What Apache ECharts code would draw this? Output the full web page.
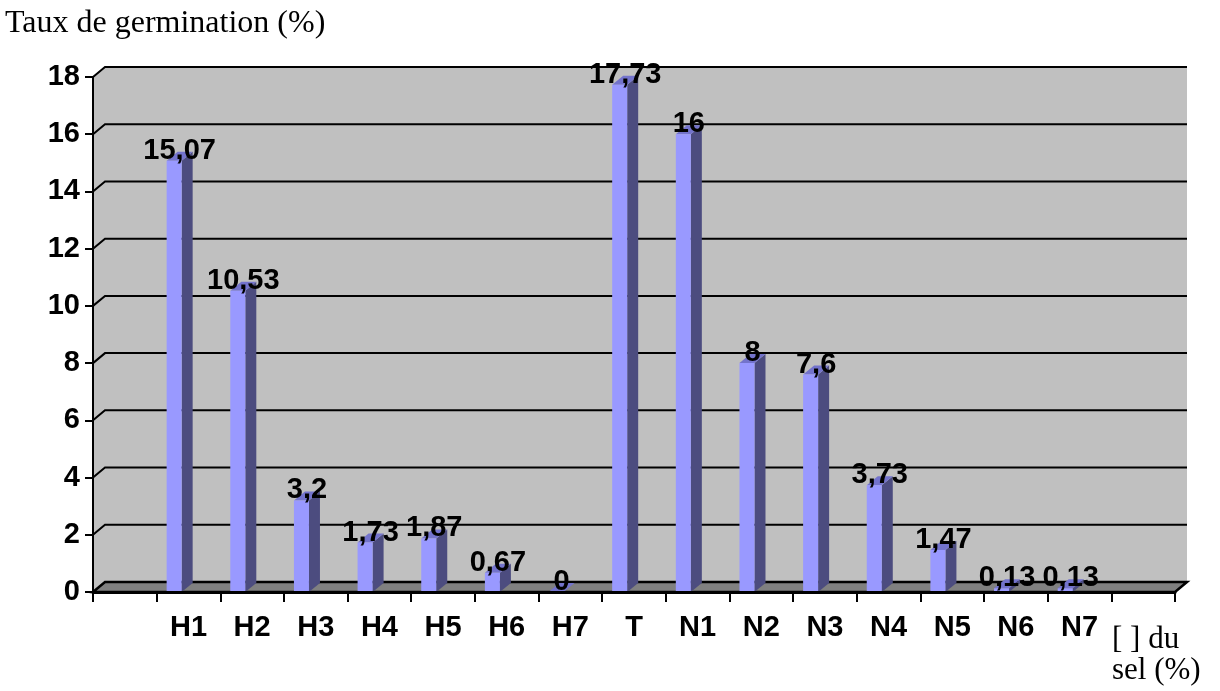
<!DOCTYPE html>
<html>
<head>
<meta charset="utf-8">
<title>Taux de germination</title>
<script src="https://cdn.jsdelivr.net/npm/echarts@6/dist/echarts.min.js"></script>
<style>
  html, body { margin: 0; padding: 0; background: #fff; }
  #chart { width: 1220px; height: 691px; }
</style>
</head>
<body>
<div id="chart"></div>
<script>
// Salt treatments (H = one salt, T = control, N = the other salt)
const CATEGORIES = ['H1', 'H2', 'H3', 'H4', 'H5', 'H6', 'H7', 'T', 'N1', 'N2', 'N3', 'N4', 'N5', 'N6', 'N7'];
// Germination rate (%) for each treatment
const GERMINATION = [15.07, 10.53, 3.2, 1.73, 1.87, 0.67, 0, 17.73, 16, 8, 7.6, 3.73, 1.47, 0.13, 0.13];
// Value axis
const Y_MIN = 0;
const Y_MAX = 18;
const Y_STEP = 2;

// One empty slot on each side of the treatments, as on the category axis
const axisCategories = [''].concat(CATEGORIES, ['']);

// Pseudo-3D depth of the wall/floor and of the bars
const WALL_DX = 12, WALL_DY = -10;
const BAR_DX = 11, BAR_DY = -9;

const FONT_SANS = 'Liberation Sans, Arial, sans-serif';
const FONT_SERIF = 'Liberation Serif, Times New Roman, serif';

function fmt(v) {
  return String(v).replace('.', ',');
}

// Back wall, left wall, floor and gridlines
function renderWall(params, api) {
  const cs = params.coordSys;
  const x0 = cs.x, x1 = cs.x + cs.width;
  const yb = api.coord([0, Y_MIN])[1];
  const yt = api.coord([0, Y_MAX])[1];
  const children = [];
  children.push({
    type: 'polygon',
    shape: { points: [[x0, yt], [x0 + WALL_DX, yt + WALL_DY], [x1 + WALL_DX, yt + WALL_DY],
                      [x1 + WALL_DX, yb + WALL_DY], [x0 + WALL_DX, yb + WALL_DY], [x0, yb]] },
    style: { fill: '#c0c0c0' }
  });
  children.push({
    type: 'polygon',
    shape: { points: [[x0, yb], [x0 + WALL_DX, yb + WALL_DY], [x1 + WALL_DX, yb + WALL_DY], [x1, yb]] },
    style: { fill: '#808080', stroke: '#000', lineWidth: 2.5 }
  });
  for (let v = Y_MIN + Y_STEP; v <= Y_MAX; v += Y_STEP) {
    const y = api.coord([0, v])[1];
    children.push({
      type: 'polyline',
      shape: { points: [[x0, y], [x0 + WALL_DX, y + WALL_DY], [x1 + WALL_DX, y + WALL_DY]] },
      style: { stroke: '#000', lineWidth: 2, fill: null }
    });
  }
  return { type: 'group', children: children };
}

// Prism bar with front face, side face, top face and value label
function renderBar(params, api) {
  const idx = api.value(0);
  const val = api.value(1);
  const top = api.coord([idx, val]);
  const base = api.coord([idx, Y_MIN]);
  const band = api.size([1, 0])[0];
  const left = top[0] - band / 2 + band * 0.157;
  const fw = band * 0.236;
  const right = left + fw;
  const yTop = top[1], yBase = base[1];
  return {
    type: 'group',
    children: [
      {
        type: 'polygon',
        shape: { points: [[right, yTop], [right + BAR_DX, yTop + BAR_DY], [right + BAR_DX, yBase + BAR_DY], [right, yBase]] },
        style: { fill: '#4c4c7f' }
      },
      {
        type: 'polygon',
        shape: { points: [[left, yTop], [left + BAR_DX, yTop + BAR_DY], [right + BAR_DX, yTop + BAR_DY], [right, yTop]] },
        style: { fill: '#7373cc' }
      },
      {
        type: 'rect',
        shape: { x: left, y: yTop, width: fw, height: Math.max(yBase - yTop, 0) },
        style: { fill: '#9999ff' }
      },
      {
        type: 'text',
        z2: 100,
        style: {
          x: left + (fw + BAR_DX) / 2,
          y: yTop - 10,
          text: fmt(GERMINATION[idx - 1]),
          align: 'center',
          verticalAlign: 'middle',
          font: 'bold 29px ' + FONT_SANS,
          fill: '#000'
        }
      }
    ]
  };
}

const chart = echarts.init(document.getElementById('chart'), null, { renderer: 'canvas' });

chart.setOption({
  backgroundColor: '#fff',
  animation: false,
  grid: { left: 93, right: 45, top: 77, bottom: 99, containLabel: false },
  xAxis: {
    type: 'category',
    data: axisCategories,
    z: 5,
    boundaryGap: true,
    axisLine: { show: true, lineStyle: { color: '#000', width: 3 } },
    axisTick: { show: true, interval: 0, length: 10, lineStyle: { color: '#000', width: 2 } },
    axisLabel: {
      interval: 0, margin: 21, color: '#000',
      fontFamily: FONT_SANS, fontWeight: 'bold', fontSize: 29
    },
    splitLine: { show: false }
  },
  yAxis: {
    type: 'value',
    min: Y_MIN, max: Y_MAX, interval: Y_STEP,
    z: 5,
    axisLine: { show: true, lineStyle: { color: '#000', width: 2 } },
    axisTick: { show: true, length: 8, lineStyle: { color: '#000', width: 2 } },
    axisLabel: {
      margin: 13, color: '#000',
      fontFamily: FONT_SANS, fontWeight: 'bold', fontSize: 29
    },
    splitLine: { show: false }
  },
  graphic: [
    {
      type: 'text', left: 5, top: 8,
      style: { text: 'Taux de germination (%)', font: '32px ' + FONT_SERIF, fill: '#000' }
    },
    {
      type: 'text', left: 1112, top: 624,
      style: { text: '[ ] du\nsel (%)', font: '31px ' + FONT_SERIF, fill: '#000', align: 'center', lineHeight: 31 }
    }
  ],
  series: [
    {
      type: 'custom',
      name: 'wall',
      z: 1,
      silent: true,
      clip: false,
      renderItem: renderWall,
      encode: { x: 0, y: 1 },
      data: [[0, 0]]
    },
    {
      type: 'custom',
      name: 'Taux de germination',
      z: 2,
      clip: false,
      renderItem: renderBar,
      encode: { x: 0, y: 1 },
      data: GERMINATION.map(function (v, i) { return [i + 1, v]; })
    }
  ]
});
</script>
</body>
</html>
